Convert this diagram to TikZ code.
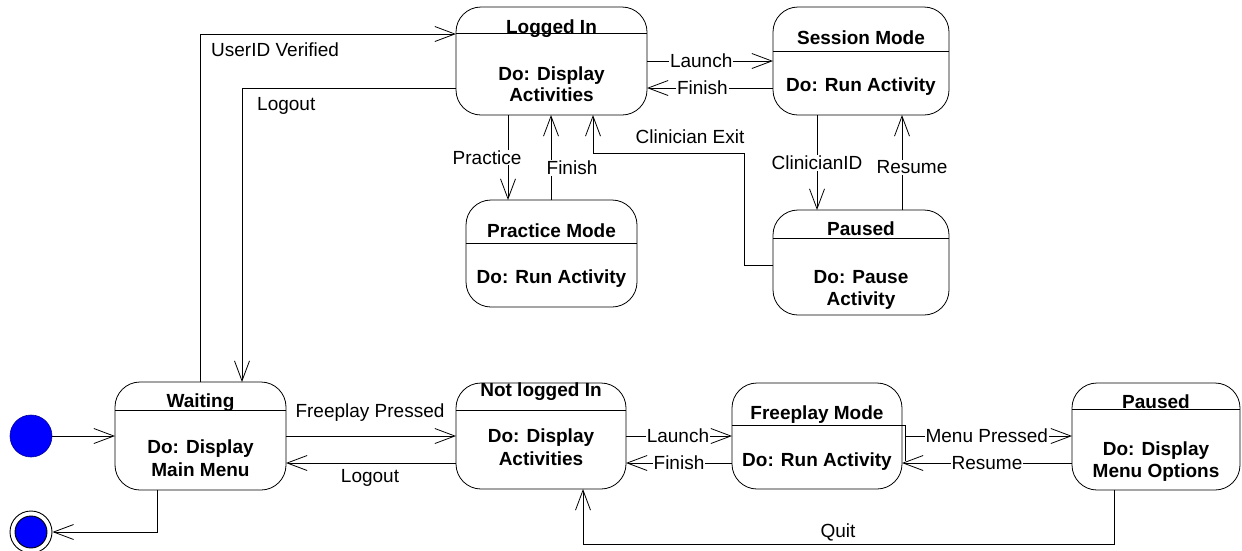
\documentclass[tikz,border=0pt]{standalone}
\usepackage{fontspec}
\setmainfont{Liberation Sans}
\usetikzlibrary{arrows.meta}
\definecolor{dotblue}{RGB}{0,0,255}
\tikzset{
  state/.style={draw=black, line width=0.8pt, rounded corners=25pt, rectangle, inner sep=0pt, outer sep=0pt, fill=white},
  ttl/.style={font=\bfseries\fontsize{19}{23}\selectfont, anchor=base, inner sep=0pt},
  lbl/.style={font=\fontsize{19}{23}\selectfont, fill=white, inner sep=1pt},
  plainlbl/.style={font=\fontsize{19}{23}\selectfont, inner sep=0pt, anchor=base},
  conn/.style={draw=black, line width=0.8pt},
  arr/.style={conn, -{Straight Barb[length=20pt, width=15pt, line width=0.8pt]}},
}
\begin{document}
\begin{tikzpicture}[x=1pt, y=-1pt]
\useasboundingbox (0,0) rectangle (1242,550);

% ---- states ----
\node[state, minimum width=171pt, minimum height=108pt] (wt) at (200.5,436) {};
\node[state, minimum width=191pt, minimum height=108pt] (li) at (551.5,61) {};
\node[state, minimum width=176pt, minimum height=108pt] (sm) at (861,61) {};
\node[state, minimum width=171pt, minimum height=107pt] (pm) at (551.5,253.5) {};
\node[state, minimum width=176pt, minimum height=105pt] (pa) at (861,262.5) {};
\node[state, minimum width=170pt, minimum height=106pt] (nl) at (541,436) {};
\node[state, minimum width=170pt, minimum height=106pt] (fm) at (817,436) {};
\node[state, minimum width=168pt, minimum height=107pt] (pb) at (1156,436.5) {};

% header lines
\draw[conn] (wt.west |- 0,410) -- (wt.east |- 0,410);
\draw[conn] (li.west |- 0,33) -- (li.east |- 0,33);
\draw[conn] (sm.west |- 0,51) -- (sm.east |- 0,51);
\draw[conn] (pm.west |- 0,243) -- (pm.east |- 0,243);
\draw[conn] (pa.west |- 0,238) -- (pa.east |- 0,238);
\draw[conn] (nl.west |- 0,410) -- (nl.east |- 0,410);
\draw[conn] (fm.west |- 0,425) -- (fm.east |- 0,425) -- (905,425) -- (905,461);
\draw[conn] (pb.west |- 0,409) -- (pb.east |- 0,409);

% titles and bodies
\node[ttl] (wt-t) at (200.5,407) {Waiting};
\node[ttl] (wt-b1) at (200.5,453) {Do: Display};
\node[ttl] (wt-b2) at (200.5,476) {Main Menu};

\node[ttl] (li-t) at (551.5,33) {Logged In};
\node[ttl] (li-b1) at (551.5,80) {Do: Display};
\node[ttl] (li-b2) at (551.5,101) {Activities};

\node[ttl] (sm-t) at (861,44) {Session Mode};
\node[ttl] (sm-b1) at (861,91) {Do: Run Activity};

\node[ttl] (pm-t) at (551.5,237) {Practice Mode};
\node[ttl] (pm-b1) at (551.5,283) {Do: Run Activity};

\node[ttl] (pa-t) at (861,235) {Paused};
\node[ttl] (pa-b1) at (861,283) {Do: Pause};
\node[ttl] (pa-b2) at (861,305) {Activity};

\node[ttl] (nl-t) at (541,396) {Not logged In};
\node[ttl] (nl-b1) at (541,442) {Do: Display};
\node[ttl] (nl-b2) at (541,465) {Activities};

\node[ttl] (fm-t) at (817,419) {Freeplay Mode};
\node[ttl] (fm-b1) at (817,466) {Do: Run Activity};

\node[ttl] (pb-t) at (1156,408) {Paused};
\node[ttl] (pb-b1) at (1156,455) {Do: Display};
\node[ttl] (pb-b2) at (1156,477) {Menu Options};

% pseudo states
\node[circle, minimum size=42pt, inner sep=0pt, fill=dotblue, draw=blue!60!black, line width=0.6pt] (ini) at (31,436) {};
\node[circle, minimum size=42pt, inner sep=0pt, fill=white, draw=black, line width=0.9pt] (fin) at (31,532) {};
\node[circle, minimum size=32pt, inner sep=0pt, fill=dotblue, draw=black, line width=0.9pt] (fin-in) at (31,532) {};

% ---- connectors ----
\draw[arr] (ini.east) -- (wt.west |- ini.east);
\draw[arr] (wt.south -| 157,0) |- (fin.east);

\draw[arr] (wt.north -| 200,0) |- (li.west |- 0,34);
\node[plainlbl, anchor=base west] (l-uid) at (211,56) {UserID Verified};
\draw[arr] (li.west |- 0,88) -| (wt.north -| 242,0);
\node[plainlbl, anchor=base west] (l-lo1) at (257,110) {Logout};

\draw[arr] (li.east |- 0,61) -- (sm.west |- 0,61) node[lbl, pos=0.43] (l-la1) {Launch};
\draw[arr] (sm.west |- 0,88) -- (li.east |- 0,88) node[lbl, pos=0.56] (l-fi1) {Finish};

\draw[arr] (li.south -| 508,0) -- (pm.north -| 508,0) node[lbl, pos=0.5, xshift=-21pt] (l-pr) {Practice};
\draw[arr] (pm.north -| 551,0) -- (li.south -| 551,0) node[lbl, pos=0.38, xshift=21pt] (l-fi2) {Finish};

\draw[arr] (pa.west |- 0,265) -| (744,153) -| (li.south -| 593,0);
\node[plainlbl, anchor=center] (l-ce) at (690,137) {Clinician Exit};

\draw[arr] (sm.south -| 817,0) -- (pa.north -| 817,0) node[lbl, pos=0.505] (l-cid) {ClinicianID};
\draw[arr] (pa.north -| 902,0) -- (sm.south -| 902,0) node[lbl, pos=0.45, xshift=10pt] (l-re1) {Resume};

\draw[arr] (wt.east |- 0,436) -- (nl.west |- 0,436);
\node[plainlbl, anchor=center] (l-fp) at (370,413) {Freeplay Pressed};
\draw[arr] (nl.west |- 0,463) -- (wt.east |- 0,463);
\node[plainlbl, anchor=center] (l-lo2) at (370,478) {Logout};

\draw[arr] (nl.east |- 0,436) -- (fm.west |- 0,436) node[lbl, pos=0.49] (l-la2) {Launch};
\draw[arr] (fm.west |- 0,463) -- (nl.east |- 0,463) node[lbl, pos=0.5] (l-fi3) {Finish};

\draw[arr] (905,436) -- (pb.west |- 0,436) node[lbl, pos=0.49] (l-mp) {Menu Pressed};
\draw[arr] (pb.west |- 0,463) -- (fm.east |- 0,463) node[lbl, pos=0.5] (l-re2) {Resume};

\draw[arr] (pb.south -| 1114,0) -- (1114,544) -| (nl.south -| 583,0);
\node[plainlbl, anchor=center] (l-q) at (838,532) {Quit};
\end{tikzpicture}
\end{document}
